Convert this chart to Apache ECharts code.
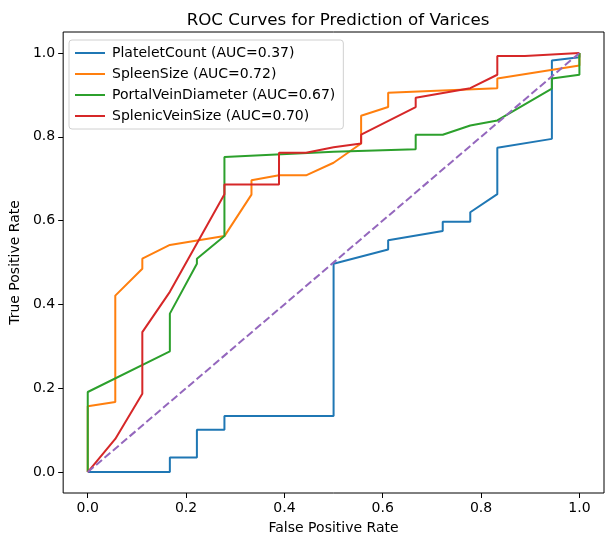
<!DOCTYPE html>
<html>
<head>
<meta charset="utf-8">
<script src="https://cdn.jsdelivr.net/npm/echarts@6/dist/echarts.min.js"></script>
<style>
  html, body { margin: 0; padding: 0; background: #fff; }
  #chart { width: 613px; height: 547px; }
</style>
</head>
<body>
<div id="chart"></div>
<script>
// values
const tickValues = [0, 0.2, 0.4, 0.6, 0.8, 1.0]

const plateletFpr = [0, 0.167, 0.167, 0.222, 0.222, 0.278, 0.278, 0.5, 0.5, 0.611, 0.611, 0.722, 0.722, 0.778, 0.778, 0.833, 0.833, 0.944, 0.944, 1, 1]
const plateletTpr = [0, 0, 0.035, 0.035, 0.101, 0.101, 0.134, 0.134, 0.497, 0.531, 0.553, 0.575, 0.597, 0.597, 0.620, 0.663, 0.774, 0.795, 0.982, 0.990, 1.0]

const spleenFpr = [0, 0, 0.056, 0.056, 0.111, 0.111, 0.167, 0.278, 0.333, 0.333, 0.389, 0.444, 0.5, 0.556, 0.556, 0.611, 0.611, 0.833, 0.833, 1, 1]
const spleenTpr = [0, 0.157, 0.167, 0.421, 0.485, 0.509, 0.542, 0.563, 0.662, 0.696, 0.708, 0.708, 0.738, 0.784, 0.850, 0.871, 0.905, 0.916, 0.939, 0.970, 1.0]

const portalFpr = [0, 0, 0.167, 0.167, 0.222, 0.222, 0.278, 0.278, 0.5, 0.667, 0.667, 0.722, 0.778, 0.833, 0.944, 0.944, 1, 1]
const portalTpr = [0, 0.191, 0.288, 0.378, 0.497, 0.509, 0.563, 0.752, 0.764, 0.770, 0.805, 0.805, 0.827, 0.839, 0.915, 0.939, 0.948, 1.0]

const splenicFpr = [0, 0.056, 0.111, 0.111, 0.167, 0.278, 0.278, 0.389, 0.389, 0.444, 0.5, 0.556, 0.556, 0.667, 0.667, 0.778, 0.833, 0.833, 0.889, 1]
const splenicTpr = [0, 0.079, 0.187, 0.334, 0.430, 0.663, 0.686, 0.686, 0.762, 0.762, 0.775, 0.784, 0.805, 0.871, 0.893, 0.916, 0.948, 0.993, 0.993, 1.0]

const chanceFpr = [0, 1]
const chanceTpr = [0, 1]

const seriesNames = ['PlateletCount (AUC=0.37)', 'SpleenSize (AUC=0.72)', 'PortalVeinDiameter (AUC=0.67)', 'SplenicVeinSize (AUC=0.70)']
const colors = ['#1f77b4', '#ff7f0e', '#2ca02c', '#d62728', '#9467bd']

const pairs = (xs, ys) => xs.map((x, i) => [x, ys[i]])
const font = 'DejaVu Sans'

const chart = echarts.init(document.getElementById('chart'))

const lineSeries = (name, data, color) => ({
  name: name,
  type: 'line',
  data: data,
  symbol: 'none',
  silent: true,
  lineStyle: { color: color, width: 2 },
  itemStyle: { color: color }
})

const axisCommon = {
  type: 'value',
  min: -0.05,
  max: 1.05,
  splitLine: { show: false },
  axisLine: { show: false, onZero: false },
  axisTick: { show: true, inside: false, length: 5, lineStyle: { color: '#000' }, customValues: tickValues },
  axisLabel: {
    color: '#000', fontFamily: font, fontSize: 14, margin: 8,
    customValues: tickValues,
    formatter: v => v.toFixed(1)
  },
  nameLocation: 'middle',
  nameTextStyle: { color: '#000', fontFamily: font, fontSize: 14 }
}

const option = {
  backgroundColor: '#fff',
  animation: false,
  title: {
    text: 'ROC Curves for Prediction of Varices',
    left: 333,
    textAlign: 'center',
    top: 7,
    textStyle: { color: '#000', fontFamily: font, fontSize: 16.7, fontWeight: 'normal' }
  },
  grid: {
    left: 62, right: 9, top: 32, bottom: 54,
    show: true, borderColor: '#000', borderWidth: 1, backgroundColor: 'transparent'
  },
  legend: {
    data: seriesNames,
    orient: 'vertical',
    left: 69,
    top: 40,
    padding: [6, 8, 6, 6],
    itemGap: 7,
    icon: 'rect',
    itemWidth: 30,
    itemHeight: 2,
    backgroundColor: '#fff',
    borderColor: '#d0d0d0',
    borderWidth: 1,
    borderRadius: 3,
    selectedMode: false,
    textStyle: { color: '#000', fontFamily: font, fontSize: 14, lineHeight: 14, padding: [0, 0, 0, 2] }
  },
  xAxis: Object.assign({}, axisCommon, { name: 'False Positive Rate', nameGap: 28 }),
  yAxis: Object.assign({}, axisCommon, { name: 'True Positive Rate', nameGap: 39 }),
  series: [
    lineSeries(seriesNames[0], pairs(plateletFpr, plateletTpr), colors[0]),
    lineSeries(seriesNames[1], pairs(spleenFpr, spleenTpr), colors[1]),
    lineSeries(seriesNames[2], pairs(portalFpr, portalTpr), colors[2]),
    lineSeries(seriesNames[3], pairs(splenicFpr, splenicTpr), colors[3]),
    {
      name: 'chance',
      type: 'line',
      data: pairs(chanceFpr, chanceTpr),
      symbol: 'none',
      silent: true,
      lineStyle: { color: colors[4], width: 2, type: [7.7, 3.3] }
    }
  ]
}

chart.setOption(option)
</script>
</body>
</html>
